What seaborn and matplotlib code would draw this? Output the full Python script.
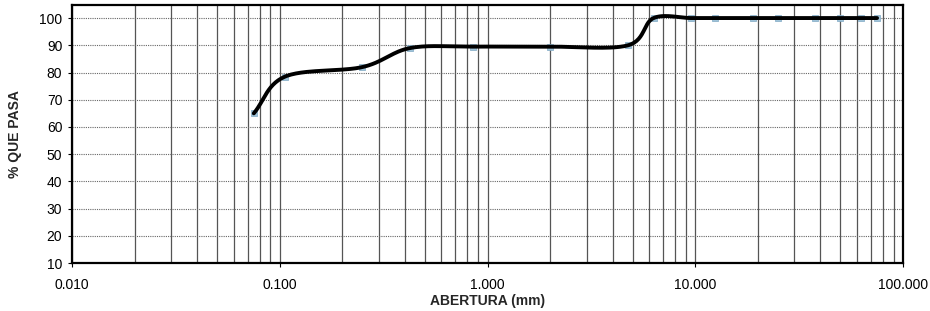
import numpy as np
import pandas as pd
import matplotlib
matplotlib.use('Agg')
import matplotlib.pyplot as plt
import seaborn as sns
from matplotlib.ticker import FixedLocator, FixedFormatter, LogLocator, NullFormatter

# sieve openings (mm) and percent passing
abertura = [0.075, 0.106, 0.25, 0.425, 0.85, 2.0, 4.75, 6.3,
            9.5, 12.5, 19.0, 25.0, 37.5, 50.0, 63.0, 75.0]
pasa = [65.0, 78.5, 82.0, 89.0, 89.5, 89.5, 90.0, 100.0,
        100.0, 100.0, 100.0, 100.0, 100.0, 100.0, 100.0, 100.0]

x_ticks = [0.01, 0.1, 1.0, 10.0, 100.0]
x_tick_labels = ['0.010', '0.100', '1.000', '10.000', '100.000']
y_ticks = [10, 20, 30, 40, 50, 60, 70, 80, 90, 100]


def smooth_curve(xs, ys, n=30):
    # Excel-like smoothed line: uniform Catmull-Rom in (log x, y)
    lx = np.log10(np.asarray(xs, dtype=float))
    y = np.asarray(ys, dtype=float)
    px = np.concatenate([[2 * lx[0] - lx[1]], lx, [2 * lx[-1] - lx[-2]]])
    py = np.concatenate([[2 * y[0] - y[1]], y, [2 * y[-1] - y[-2]]])
    out_x, out_y = [], []
    t = np.linspace(0, 1, n)
    for i in range(1, len(px) - 2):
        for p, out in ((px, out_x), (py, out_y)):
            p0, p1, p2, p3 = p[i - 1], p[i], p[i + 1], p[i + 2]
            seg = 0.5 * ((2 * p1) + (-p0 + p2) * t
                         + (2 * p0 - 5 * p1 + 4 * p2 - p3) * t ** 2
                         + (-p0 + 3 * p1 - 3 * p2 + p3) * t ** 3)
            out.extend(seg)
    return 10 ** np.array(out_x), np.array(out_y)


sx, sy = smooth_curve(abertura, pasa)
curve = pd.DataFrame({'abertura': sx, 'pasa': sy})
puntos = pd.DataFrame({'abertura': abertura, 'pasa': pasa})

sns.set_style('white')
plt.rcParams['font.family'] = ['Liberation Sans', 'DejaVu Sans']

fig = plt.figure(figsize=(9.3, 3.11), dpi=100)
ax = fig.add_axes([0.0774, 0.154, 0.8936, 0.83])

ax.set_xscale('log')
ax.set_xlim(0.01, 100)
ax.set_ylim(10, 104.8)

# grid: solid verticals at every log step, dotted horizontals
ax.xaxis.set_major_locator(FixedLocator(x_ticks))
ax.xaxis.set_major_formatter(FixedFormatter(x_tick_labels))
ax.xaxis.set_minor_locator(LogLocator(base=10, subs=np.arange(2, 10)))
ax.xaxis.set_minor_formatter(NullFormatter())
ax.set_yticks(y_ticks)
ax.grid(True, which='major', axis='x', color='#555555', linewidth=0.9, linestyle='-')
ax.grid(True, which='minor', axis='x', color='#555555', linewidth=0.9, linestyle='-')
ax.grid(True, which='major', axis='y', color='#666666', linewidth=0.8, linestyle=(0, (1, 1)))
ax.set_axisbelow(True)

sns.scatterplot(data=puntos, x='abertura', y='pasa', ax=ax, marker='s', s=14,
                color='#9fc3d9', edgecolor='#7fa8c4', linewidth=0.5, zorder=3)
sns.lineplot(data=curve, x='abertura', y='pasa', ax=ax, sort=False,
             color='black', linewidth=2.8, zorder=4)

for s in ax.spines.values():
    s.set_color('black')
    s.set_linewidth(1.6)

ax.tick_params(axis='both', which='major', direction='out', length=3, width=0.8,
               colors='black', labelsize=10, pad=4, bottom=True, left=True)
ax.tick_params(axis='x', which='minor', length=0)
ax.tick_params(axis='x', which='major', pad=8)

ax.set_xlabel('ABERTURA (mm)', fontsize=10, fontweight='bold', labelpad=1)
ax.set_ylabel('% QUE PASA', fontsize=10, fontweight='bold', labelpad=12)

fig.savefig('out.png', dpi=100, facecolor='white')
